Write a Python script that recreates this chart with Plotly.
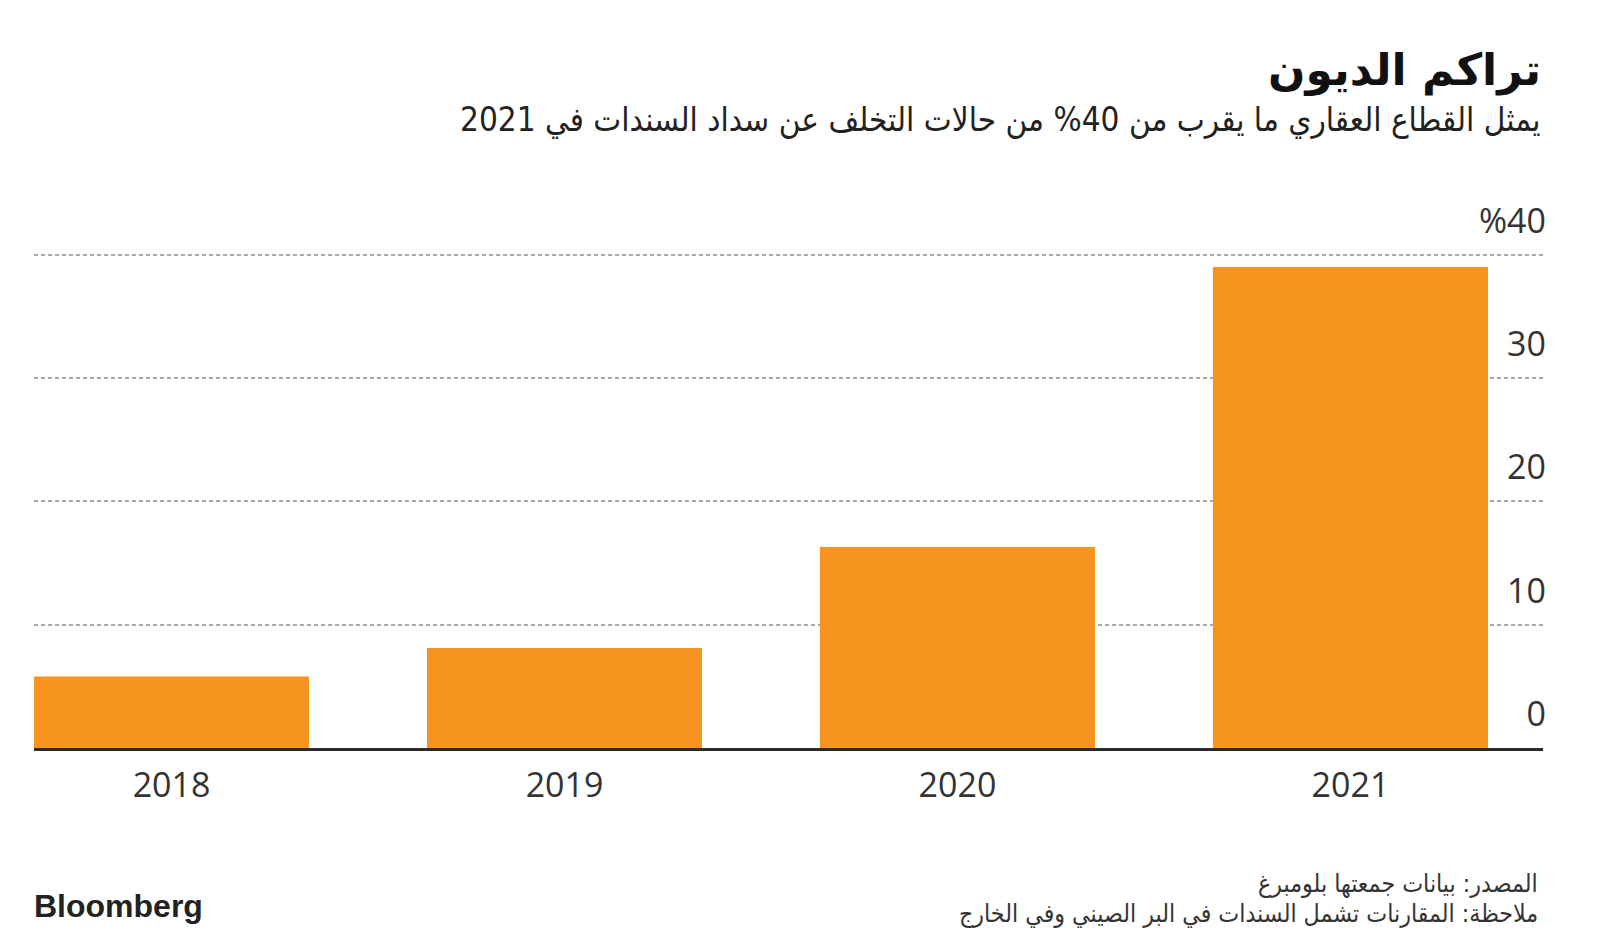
import plotly.graph_objects as go

years = ["2018", "2019", "2020", "2021"]
share = [5.8, 8.1, 16.3, 39.0]
y_ticks = [0, 10, 20, 30, 40]
y_ticktext = ["0", "10", "20", "30", "%40"]

title = "تراكم الديون"
subtitle = "يمثل القطاع العقاري ما يقرب من 40% من حالات التخلف عن سداد السندات في 2021"
source = "المصدر: بيانات جمعتها بلومبرغ"
note = "ملاحظة: المقارنات تشمل السندات في البر الصيني وفي الخارج"

RLE, PDF = "\u202B", "\u202C"

fig = go.Figure()
fig.add_trace(go.Bar(
    x=years, y=share, width=0.7,
    marker=dict(color="#F7941F", line=dict(width=0)),
    hoverinfo="x+y",
))

W, H = 1600, 942
ml, mr, mt, mb = 34, 57, 251, 194

fig.update_layout(
    width=W, height=H,
    margin=dict(l=ml, r=mr, t=mt, b=mb, pad=0),
    paper_bgcolor="white", plot_bgcolor="white",
    showlegend=False,
    bargap=0.3,
    xaxis=dict(
        type="category", range=[-0.35, 3.49],
        showgrid=False, showline=True, linecolor="#2b2b2b", linewidth=3,
        ticks="", tickfont=dict(family="Open Sans", size=34, color="#333333"),
        ticklabelstandoff=5,
    ),
    yaxis=dict(
        range=[0, 40.3], tickvals=y_ticks, ticktext=y_ticktext,
        side="right", ticklabelposition="inside", ticks="",
        ticklabeloverflow="allow",
        showgrid=True, gridcolor="#a8a8a8", gridwidth=2, griddash="4px,3px",
        zeroline=False, showline=False,
        tickfont=dict(family="Open Sans", size=34, color="#333333"),
        ticklabelshift=-34, ticklabelstandoff=-6,
    ),
    font=dict(family="DejaVu Sans"),
)

def px_x(p):
    return (p - ml) / (W - ml - mr)

def px_y(p):
    return (H - mb - p) / (H - mt - mb)

fig.add_annotation(text="<b>" + RLE + title + PDF + "</b>", xref="paper", yref="paper",
                   x=px_x(1543), y=px_y(70), xanchor="right", yanchor="middle",
                   showarrow=False, font=dict(family="DejaVu Sans", size=44, color="#111111"))
fig.add_annotation(text=RLE + subtitle + PDF, xref="paper", yref="paper",
                   x=px_x(1543), y=px_y(119), xanchor="right", yanchor="middle",
                   showarrow=False, font=dict(family="DejaVu Sans Condensed", size=33, color="#222222"))
fig.add_annotation(text=RLE + source + PDF, xref="paper", yref="paper",
                   x=px_x(1540), y=px_y(884), xanchor="right", yanchor="middle",
                   showarrow=False, font=dict(family="DejaVu Sans Condensed", size=24.7, color="#333333"))
fig.add_annotation(text=RLE + note + PDF, xref="paper", yref="paper",
                   x=px_x(1540), y=px_y(913), xanchor="right", yanchor="middle",
                   showarrow=False, font=dict(family="DejaVu Sans Condensed", size=24.7, color="#333333"))
fig.add_annotation(text="<b>Bloomberg</b>", xref="paper", yref="paper",
                   x=px_x(32), y=px_y(906), xanchor="left", yanchor="middle",
                   showarrow=False, font=dict(family="Liberation Sans", size=32, color="#222222"))

fig.write_html("out.html", config={"displayModeBar": False},
               post_script="document.body.style.margin='0';")
